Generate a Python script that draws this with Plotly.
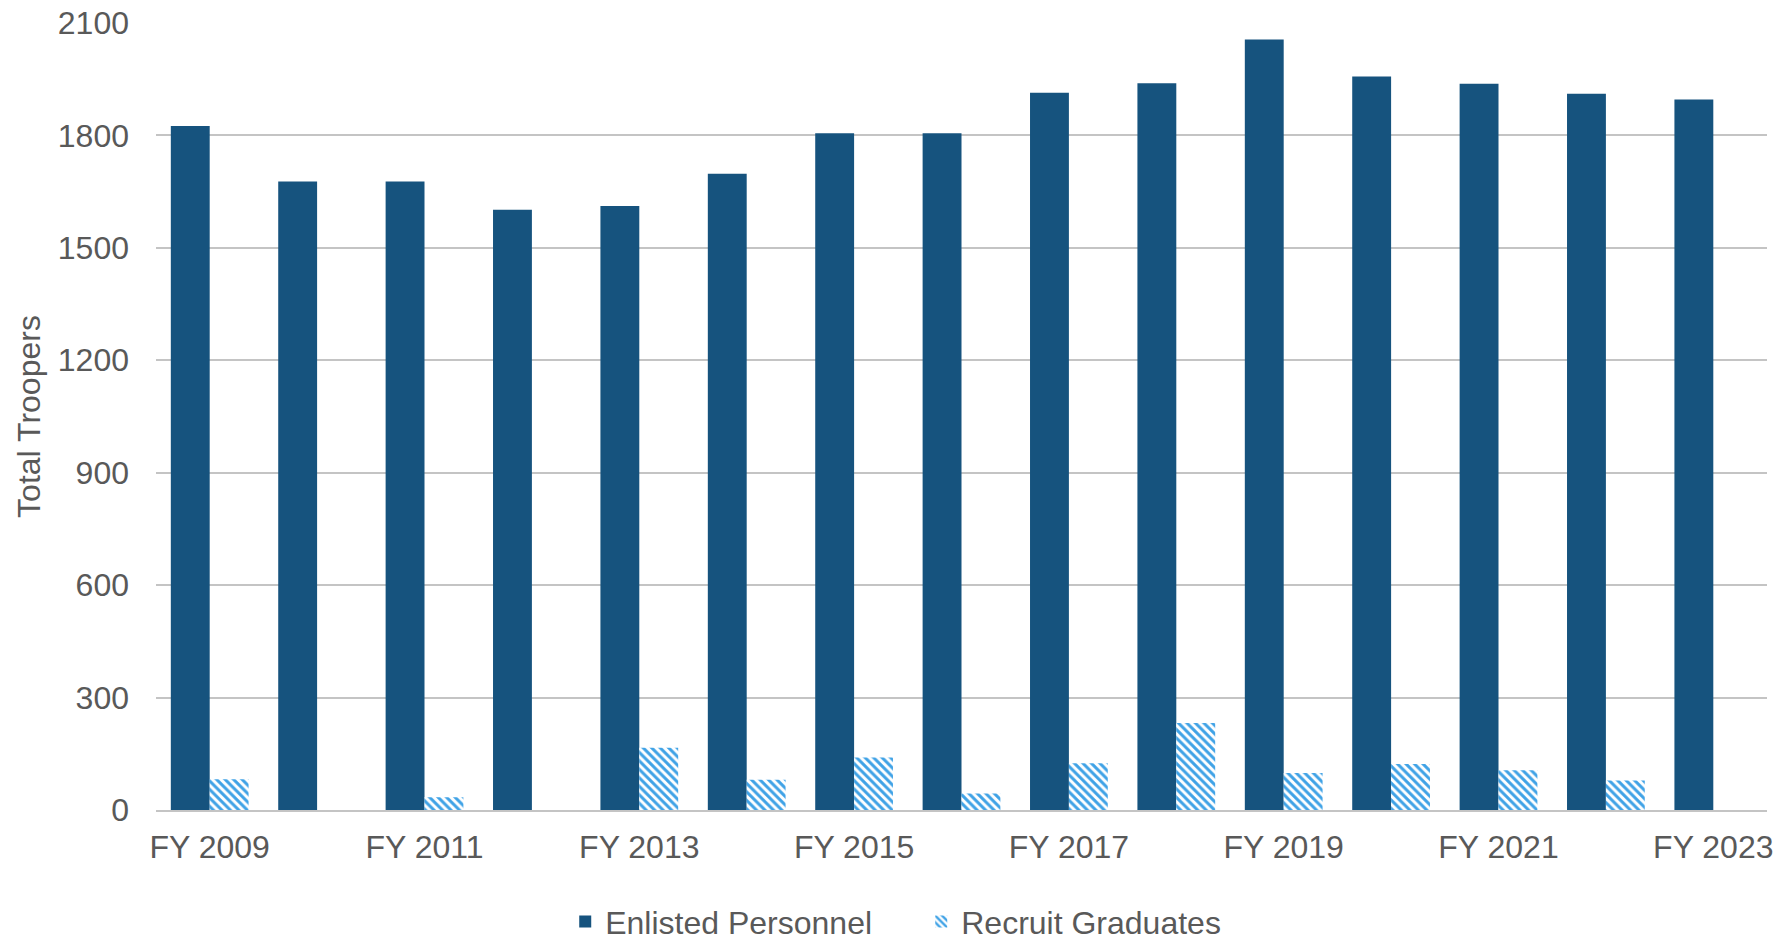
import plotly.graph_objects as go

years = [f"FY {y}" for y in range(2009, 2024)]
enlisted = [1825, 1677, 1677, 1602, 1612, 1698, 1806, 1806, 1914, 1939, 2056, 1957, 1938, 1911, 1896]
recruits = [82, 0, 34, 0, 166, 81, 140, 44, 125, 232, 99, 123, 106, 79, 0]
tick_labels = [f"FY {y}" for y in range(2009, 2024, 2)]
y_ticks = [0, 300, 600, 900, 1200, 1500, 1800, 2100]

DARK = "#16537E"
LIGHT = "#3FA2E6"
TXT = "#595959"
FONT = "Liberation Sans, Arial, sans-serif"
FS = 32

fig = go.Figure()
fig.add_trace(go.Bar(
    name="Enlisted Personnel", x=years, y=enlisted,
    marker=dict(color=DARK, line=dict(width=0)),
))
fig.add_trace(go.Bar(
    name="Recruit Graduates", x=years, y=recruits,
    marker=dict(color="white", line=dict(width=0),
                pattern=dict(shape="\\", fgcolor=LIGHT, bgcolor="white",
                             size=6, solidity=0.5, fillmode="replace")),
))

fig.update_layout(
    width=1784, height=930,
    margin=dict(l=148, r=25, t=15, b=128, pad=0, autoexpand=False),
    paper_bgcolor="white", plot_bgcolor="white",
    barmode="group", bargap=0.276, bargroupgap=0,
    font=dict(family=FONT, size=FS, color=TXT),
    showlegend=True,
    legend=dict(orientation="h", x=0.475, xanchor="center", y=-0.142, yanchor="middle",
                font=dict(size=FS, color=TXT), itemwidth=30, traceorder="normal",
                entrywidth=311, entrywidthmode="pixels",
                bgcolor="rgba(0,0,0,0)"),
)
fig.update_xaxes(
    type="category", tickmode="array", tickvals=tick_labels, ticktext=tick_labels,
    showgrid=False, showline=True, linecolor="#C4C4C4", linewidth=1.5,
    ticks="", ticklabelstandoff=8, tickfont=dict(size=FS, color=TXT), automargin=False,
    ticklabeloverflow="allow",
)
fig.update_yaxes(
    range=[0, 2100], tickmode="array", tickvals=y_ticks,
    showgrid=True, gridcolor="#C4C4C4", gridwidth=1.5,
    zeroline=False, showline=False, ticks="", ticklabelstandoff=26,
    tickfont=dict(size=FS, color=TXT), automargin=False, ticklabeloverflow="allow",
    title=dict(text="Total Troopers", font=dict(size=FS, color=TXT), standoff=7),
)

fig.write_html("out.html")
